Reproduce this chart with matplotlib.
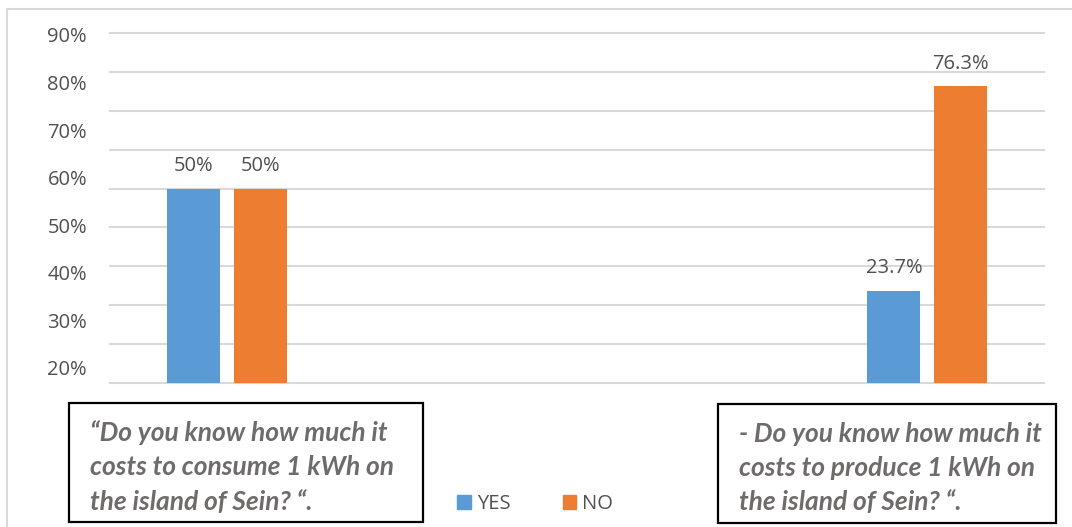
import numpy as np
import matplotlib.pyplot as plt
from matplotlib.patches import Rectangle

# Survey answers (percent). Four category slots: the two questions sit in
# the outer slots, the middle two are empty.
categories = ["consume", "", "", "produce"]
yes_values = [50.0, np.nan, np.nan, 23.7]
no_values = [50.0, np.nan, np.nan, 76.3]
yes_labels = ["50%", "", "", "23.7%"]
no_labels = ["50%", "", "", "76.3%"]
axis_labels = ["20%", "30%", "40%", "50%", "60%", "70%", "80%", "90%"]
series_names = ["YES", "NO"]
questions = [
    "\u201cDo you know how much it\ncosts to consume 1 kWh on\nthe island of Sein? \u201c.",
    "- Do you know how much it\ncosts to produce 1 kWh on\nthe island of Sein? \u201c.",
]

BLUE = "#5B9BD5"
ORANGE = "#ED7D31"
GRID = "#D9D9D9"
TEXT = "#505050"
QTEXT = "#6F6B6B"

W, H = 1072, 527
fig = plt.figure(figsize=(W / 100, H / 100), dpi=100)
fig.patch.set_facecolor("white")

# outer chart frame
fig.patches.append(Rectangle((7 / W, -0.1), 1.2, 1 - 9 / H + 0.1,
                             transform=fig.transFigure, fill=False,
                             edgecolor=GRID, linewidth=1.5))

ax = fig.add_axes([110 / W, 1 - 383 / H, (1044 - 110) / W, (383 - 33) / H])
ax.set_xlim(-0.5, 3.5)
ax.set_ylim(0, 90)
for s in ax.spines.values():
    s.set_visible(False)

# horizontal gridlines every 10 %
for g in range(0, 100, 10):
    ax.axhline(g, color=GRID, linewidth=1.5, zorder=0, clip_on=False)

x = np.arange(len(categories))
bw = 0.227
off = 0.143
b1 = ax.bar(x - off, yes_values, bw, color=BLUE, label=series_names[0], zorder=2)
b2 = ax.bar(x + off, no_values, bw, color=ORANGE, label=series_names[1], zorder=2)

for bars, vals, labs in ((b1, yes_values, yes_labels), (b2, no_values, no_labels)):
    for rect, v, lab in zip(bars, vals, labs):
        if np.isnan(v):
            continue
        ax.annotate(lab, (rect.get_x() + rect.get_width() / 2, v),
                    xytext=(0, 9), textcoords="offset points",
                    ha="center", va="bottom", fontsize=14.5, color=TEXT,
                    family="Open Sans", clip_on=False)

ax.set_xticks([])
# value-axis labels spread evenly down the left side
label_pos = np.linspace(3.9, 89.5, len(axis_labels))
ax.set_yticks(label_pos)
ax.set_yticklabels(axis_labels, fontsize=14.5, color=TEXT, family="Open Sans")
ax.tick_params(axis="y", length=0, pad=16.5)

# question boxes under the two groups
boxes = [(69, 403, 423, 522), (718, 404, 1056, 523)]
for (x0, y0, x1, y1), q in zip(boxes, questions):
    fig.patches.append(Rectangle((x0 / W, 1 - y1 / H), (x1 - x0) / W, (y1 - y0) / H,
                                 transform=fig.transFigure, fill=False,
                                 edgecolor="black", linewidth=1.6))
    fig.text((x0 + 21) / W, 1 - (y0 + 64) / H, q, ha="left", va="center",
             fontsize=19, fontweight="bold", fontstyle="italic",
             family="Lato", color=QTEXT, linespacing=1.52)

handles = [Rectangle((0, 0), 1, 1, color=BLUE), Rectangle((0, 0), 1, 1, color=ORANGE)]
leg = fig.legend(handles, series_names, loc="center", bbox_to_anchor=(535 / W, 1 - 504 / H),
                 ncol=2, frameon=False, handlelength=0.65, handleheight=0.65,
                 handletextpad=0.3, columnspacing=2.6,
                 prop={"family": "Open Sans", "size": 14.5})
for t in leg.get_texts():
    t.set_color(TEXT)

fig.savefig("out.png", dpi=100, facecolor="white")
